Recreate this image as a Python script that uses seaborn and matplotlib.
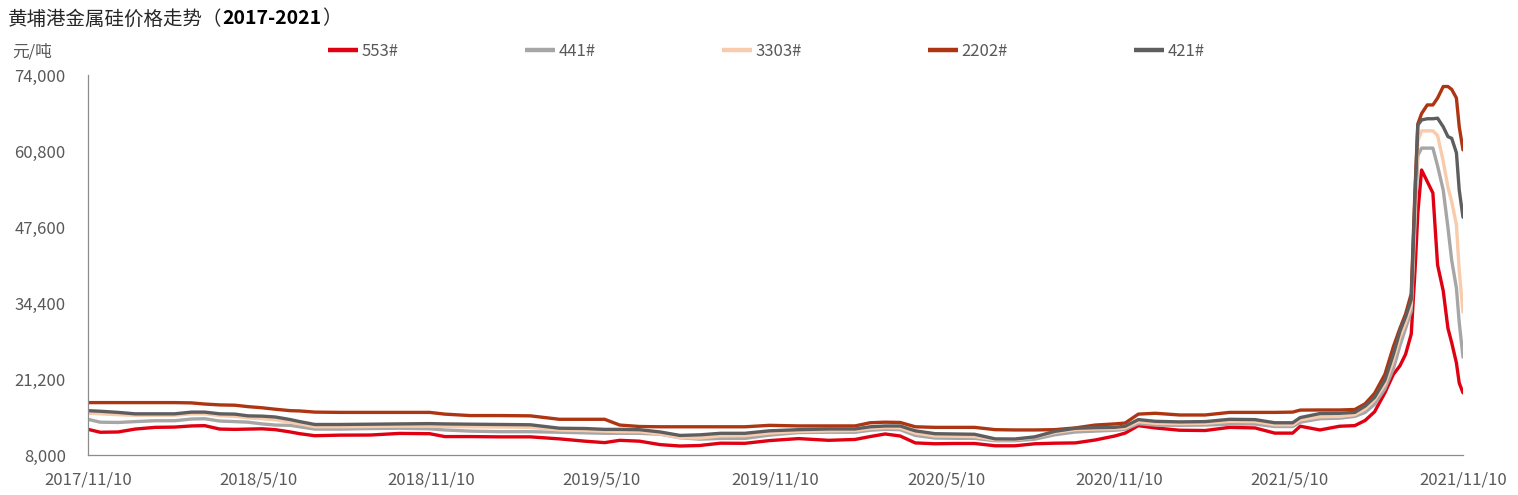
import pandas as pd
import matplotlib
matplotlib.use("Agg")
import matplotlib.pyplot as plt
import matplotlib.ticker as mticker
from matplotlib.lines import Line2D
import seaborn as sns

# data (yuan / ton)
dates = [
    "2017-11-10", "2017-11-23", "2017-12-12", "2017-12-30", "2018-01-20", "2018-02-10", "2018-02-28",
    "2018-03-14", "2018-03-30", "2018-04-15", "2018-04-29", "2018-05-14", "2018-05-28", "2018-06-13",
    "2018-06-23", "2018-07-09", "2018-08-05", "2018-09-06", "2018-10-07", "2018-11-08",
    "2018-11-24", "2018-12-21", "2019-01-22", "2019-02-23", "2019-03-26", "2019-04-22", "2019-05-13",
    "2019-05-29", "2019-06-19", "2019-07-11", "2019-08-01", "2019-08-22", "2019-09-13", "2019-10-09",
    "2019-11-04",
    "2019-12-05", "2020-01-06", "2020-02-03", "2020-02-19", "2020-03-06", "2020-03-22", "2020-04-07",
    "2020-04-28", "2020-05-19", "2020-06-09", "2020-07-01", "2020-07-22", "2020-08-12", "2020-09-02",
    "2020-09-24", "2020-10-15", "2020-11-05", "2020-11-16",
    "2020-11-30", "2020-12-18", "2021-01-13", "2021-02-09", "2021-03-07", "2021-04-03", "2021-04-24",
    "2021-05-13", "2021-05-21", "2021-06-11", "2021-07-02",
    "2021-07-18", "2021-07-29", "2021-08-08", "2021-08-19", "2021-08-28", "2021-09-04", "2021-09-10",
    "2021-09-16", "2021-09-20", "2021-09-23", "2021-09-27", "2021-10-03", "2021-10-09", "2021-10-14",
    "2021-10-20", "2021-10-25", "2021-10-29", "2021-11-03", "2021-11-06", "2021-11-10",
]

p553 = [12460, 11950, 12000, 12500, 12800, 12850, 13050, 13100, 12500, 12450, 12500, 12550, 12400, 12000,
        11700, 11350, 11450, 11470, 11750, 11700,
        11200, 11200, 11150, 11150, 10800, 10400, 10150, 10550, 10400, 9800, 9560, 9650, 10050, 10030, 10500,
        10850, 10550, 10700, 11200, 11650, 11300, 10100, 9950, 10000, 10000, 9600, 9600, 9950, 10050, 10100,
        10600, 11300, 11800,
        13100, 12700, 12300, 12250, 12800, 12700, 11800, 11800, 13000, 12350, 13000,
        13100, 14000, 15500, 18800, 22000, 23500, 25500, 29000, 40000, 50000, 57500, 55500, 53500, 41000,
        36500, 30000, 27500, 24000, 20500, 18800]

p441 = [14200, 13700, 13650, 13800, 13950, 13950, 14250, 14300, 13900, 13800, 13700, 13400, 13200, 13150,
        12900, 12500, 12500, 12600, 12650, 12550,
        12350, 12150, 12050, 12050, 11950, 11850, 11770, 11770, 11770, 11600, 11000, 10750, 10880, 10880, 11450,
        11900, 11950, 11950, 12300, 12460, 12400, 11400, 10950, 10900, 10890, 10480, 10480, 10750, 11500, 12000,
        12150, 12300, 12450,
        13450, 13200, 13150, 13200, 13350, 13380, 12950, 12950, 13700, 14300, 14400,
        14700, 15400, 16800, 19500, 23000, 27000, 30000, 33000, 48000, 60000, 61300, 61300, 61300, 58200,
        54000, 47500, 41800, 37000, 31000, 25000]

p3303 = [15250, 15150, 15000, 14900, 14900, 14900, 15150, 15150, 14850, 14700, 14450, 14300, 14100, 13700,
         13400, 12900, 12900, 12950, 13000, 13000,
         12950, 12900, 12850, 12800, 12350, 12250, 12150, 12050, 12050, 11650, 11000, 10950, 11300, 11350, 11800,
         12100, 12200, 12250, 12600, 12750, 12700, 11800, 11300, 11250, 11200, 10650, 10650, 11100, 11900, 12400,
         12500, 12550, 12700,
         13800, 13500, 13450, 13500, 13850, 13800, 13250, 13250, 14100, 14650, 14700,
         15000, 16000, 17600, 20300, 24500, 28500, 31000, 34000, 50000, 62500, 64300, 64300, 64300, 63500,
         59000, 54500, 52000, 48000, 40000, 32800]

p2202 = [17100, 17100, 17100, 17100, 17100, 17100, 17050, 16850, 16700, 16650, 16400, 16200, 15950, 15700,
         15650, 15450, 15400, 15400, 15400, 15400,
         15100, 14850, 14850, 14800, 14200, 14200, 14200, 13200, 12950, 12900, 12900, 12900, 12900, 12900, 13150,
         13050, 13050, 13050, 13600, 13700, 13650, 12900, 12800, 12800, 12800, 12400, 12350, 12350, 12400, 12700,
         13200, 13400, 13550,
         15100, 15250, 14950, 14950, 15400, 15400, 15400, 15450, 15800, 15820, 15820,
         15900, 16900, 18700, 22000, 26800, 30000, 32500, 36000, 54000, 65500, 67300, 68800, 68800, 70000,
         72000, 72000, 71500, 70000, 65000, 61000]

p421 = [15700, 15600, 15400, 15150, 15150, 15150, 15450, 15450, 15150, 15100, 14800, 14750, 14600, 14150,
        13800, 13300, 13300, 13350, 13400, 13450,
        13400, 13350, 13300, 13250, 12650, 12600, 12450, 12450, 12400, 12000, 11400, 11500, 11770, 11770, 12200,
        12400, 12520, 12520, 12900, 13040, 13040, 12200, 11700, 11650, 11600, 10800, 10780, 11150, 12100, 12640,
        12750, 12810, 13000,
        14150, 13850, 13750, 13800, 14200, 14150, 13600, 13600, 14500, 15200, 15240,
        15400, 16500, 18000, 21000, 25500, 29500, 32000, 35000, 53000, 65300, 66200, 66400, 66400, 66500,
        65000, 63300, 63000, 60500, 54000, 49300]

series_names = ["553#", "441#", "3303#", "2202#", "421#"]
colors = ["#E00012", "#A6A6A6", "#F8CBAD", "#AE3511", "#5E5E5E"]
y_ticks = [8000, 21200, 34400, 47600, 60800, 74000]
x_tick_dates = ["2017-11-10", "2018-05-10", "2018-11-10", "2019-05-10", "2019-11-10",
                "2020-05-10", "2020-11-10", "2021-05-10", "2021-11-10"]
x_tick_labels = ["2017/11/10", "2018/5/10", "2018/11/10", "2019/5/10", "2019/11/10",
                 "2020/5/10", "2020/11/10", "2021/5/10", "2021/11/10"]

wide = pd.DataFrame({"Date": pd.to_datetime(dates), "553#": p553, "441#": p441,
                     "3303#": p3303, "2202#": p2202, "421#": p421})
df = wide.melt(id_vars="Date", var_name="牌号", value_name="价格")

sns.set_style("white")
plt.rcParams["font.family"] = ["Noto Sans CJK SC", "DejaVu Sans"]

W, H = 1518, 495
fig = plt.figure(figsize=(W / 100, H / 100), dpi=100)
ax = fig.add_axes([88 / W, 40 / H, 1375 / W, 380 / H])

palette = dict(zip(series_names, colors))
sns.lineplot(data=df, x="Date", y="价格", hue="牌号", hue_order=series_names,
             palette=palette, linewidth=2.4, ax=ax, legend=False)

ax.set_xlim(pd.Timestamp(x_tick_dates[0]), pd.Timestamp(x_tick_dates[-1]))
ax.set_ylim(y_ticks[0], y_ticks[-1])
ax.set_xticks(pd.to_datetime(x_tick_dates))
ax.set_xticklabels(x_tick_labels)
ax.set_yticks(y_ticks)
ax.yaxis.set_major_formatter(mticker.StrMethodFormatter("{x:,.0f}"))
ax.set_xlabel("")
ax.set_ylabel("")

axis_grey = "#8C8C8C"
for side in ["top", "right"]:
    ax.spines[side].set_visible(False)
for side in ["left", "bottom"]:
    ax.spines[side].set_color(axis_grey)
    ax.spines[side].set_linewidth(0.9)
ax.tick_params(axis="both", direction="in", length=5, width=0.9, color=axis_grey,
               labelcolor="#595959", labelsize=12)
ax.tick_params(axis="y", pad=16)
ax.tick_params(axis="x", pad=12)

# title: normal Chinese part + bold years
fig.canvas.draw()
renderer = fig.canvas.get_renderer()
t1 = fig.text(8 / W, 1 - 19 / H, "黄埔港金属硅价格走势（", fontsize=14, va="center", color="#262626")
x1 = t1.get_window_extent(renderer).x1
t2 = fig.text(x1 / W, 1 - 19 / H, "2017-2021", fontsize=14, va="center", color="#000000",
              fontweight="bold")
x2 = t2.get_window_extent(renderer).x1
fig.text(x2 / W, 1 - 19 / H, "）", fontsize=14, va="center", color="#262626")

fig.text(12 / W, 1 - 52 / H, "元/吨", fontsize=12, va="center", color="#595959")

handles = [Line2D([0], [0], color=c, linewidth=3.2, solid_capstyle="butt") for c in colors]
fig.legend(handles, series_names, loc="center left", bbox_to_anchor=(328 / W, 1 - 51 / H),
           ncol=5, frameon=False, fontsize=12, labelcolor="#595959", handlelength=1.8,
           handletextpad=0.2, columnspacing=7.6, borderpad=0, borderaxespad=0)

fig.savefig("out.png", dpi=100)
